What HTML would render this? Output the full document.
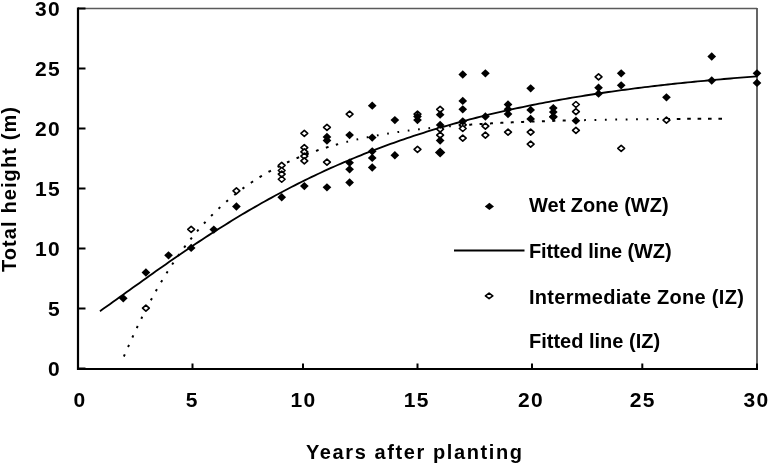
<!DOCTYPE html>
<html><head><meta charset="utf-8"><style>
html,body{margin:0;padding:0;background:#fff;}
#c{position:relative;will-change:transform;width:769px;height:464px;overflow:hidden;background:#fff;font-family:"Liberation Sans",sans-serif;font-weight:bold;color:#000;}
svg{position:absolute;left:0;top:0;}
.yl{position:absolute;left:0;width:61px;text-align:right;font-size:21px;line-height:24px;letter-spacing:1.3px;}
.xl{position:absolute;top:388px;width:60px;text-align:center;font-size:21px;line-height:24px;letter-spacing:1.3px;}
.lg{position:absolute;left:529px;font-size:20px;line-height:24px;white-space:nowrap;}
#xt{position:absolute;left:306px;top:440px;font-size:20px;line-height:24px;letter-spacing:1.6px;white-space:nowrap;}
#yt{position:absolute;left:-83px;top:177px;width:184px;text-align:center;font-size:20px;line-height:24px;letter-spacing:1.1px;white-space:nowrap;transform:rotate(-90deg);}
</style></head><body><div id="c">
<svg width="769" height="464" viewBox="0 0 769 464">
<line x1="78" y1="8.6" x2="757" y2="8.6" stroke="#5a5a5a" stroke-width="1.5"/>
<line x1="757" y1="8" x2="757" y2="369" stroke="#555" stroke-width="1.8"/>
<line x1="78" y1="7.5" x2="78" y2="370" stroke="#000" stroke-width="2.2"/>
<line x1="77" y1="369" x2="758" y2="369" stroke="#000" stroke-width="2.2"/>
<line x1="78" y1="368.50" x2="85.5" y2="368.50" stroke="#000" stroke-width="2"/>
<line x1="78" y1="308.50" x2="85.5" y2="308.50" stroke="#000" stroke-width="2"/>
<line x1="78" y1="248.50" x2="85.5" y2="248.50" stroke="#000" stroke-width="2"/>
<line x1="78" y1="188.50" x2="85.5" y2="188.50" stroke="#000" stroke-width="2"/>
<line x1="78" y1="128.50" x2="85.5" y2="128.50" stroke="#000" stroke-width="2"/>
<line x1="78" y1="68.50" x2="85.5" y2="68.50" stroke="#000" stroke-width="2"/>
<line x1="78" y1="8.50" x2="85.5" y2="8.50" stroke="#000" stroke-width="2"/>
<line x1="192.50" y1="363.5" x2="192.50" y2="369" stroke="#000" stroke-width="2"/>
<line x1="303.00" y1="363.5" x2="303.00" y2="369" stroke="#000" stroke-width="2"/>
<line x1="417.50" y1="363.5" x2="417.50" y2="369" stroke="#000" stroke-width="2"/>
<line x1="532.00" y1="363.5" x2="532.00" y2="369" stroke="#000" stroke-width="2"/>
<line x1="642.30" y1="363.5" x2="642.30" y2="369" stroke="#000" stroke-width="2"/>
<line x1="757.00" y1="363.5" x2="757.00" y2="369" stroke="#000" stroke-width="2"/>
<polyline points="99.95,311.16 103.26,308.84 106.56,306.50 109.86,304.16 113.16,301.80 116.46,299.45 119.76,297.08 123.07,294.72 126.37,292.35 129.67,289.98 132.97,287.61 136.27,285.24 139.57,282.88 142.88,280.52 146.18,278.16 149.48,275.81 152.78,273.46 156.08,271.12 159.38,268.79 162.69,266.47 165.99,264.15 169.29,261.85 172.59,259.55 175.89,257.27 179.19,255.00 182.50,252.74 185.80,250.49 189.10,248.26 192.40,246.04 195.70,243.83 199.00,241.64 202.31,239.46 205.61,237.30 208.91,235.15 212.21,233.02 215.51,230.90 218.81,228.80 222.12,226.72 225.42,224.66 228.72,222.61 232.02,220.57 235.32,218.56 238.62,216.56 241.93,214.58 245.23,212.62 248.53,210.67 251.83,208.75 255.13,206.84 258.44,204.95 261.74,203.07 265.04,201.22 268.34,199.38 271.64,197.57 274.94,195.77 278.25,193.98 281.55,192.22 284.85,190.48 288.15,188.75 291.45,187.04 294.75,185.35 298.06,183.68 301.36,182.03 304.66,180.39 307.96,178.77 311.26,177.17 314.56,175.59 317.87,174.03 321.17,172.48 324.47,170.95 327.77,169.44 331.07,167.95 334.37,166.47 337.68,165.01 340.98,163.57 344.28,162.15 347.58,160.74 350.88,159.35 354.18,157.98 357.49,156.62 360.79,155.28 364.09,153.96 367.39,152.65 370.69,151.36 373.99,150.08 377.30,148.82 380.60,147.58 383.90,146.35 387.20,145.14 390.50,143.94 393.80,142.76 397.11,141.59 400.41,140.44 403.71,139.30 407.01,138.18 410.31,137.07 413.61,135.97 416.92,134.90 420.22,133.83 423.52,132.78 426.82,131.74 430.12,130.72 433.42,129.71 436.73,128.71 440.03,127.73 443.33,126.76 446.63,125.80 449.93,124.85 453.23,123.92 456.54,123.00 459.84,122.10 463.14,121.20 466.44,120.32 469.74,119.45 473.04,118.59 476.35,117.74 479.65,116.91 482.95,116.08 486.25,115.27 489.55,114.47 492.85,113.68 496.16,112.90 499.46,112.13 502.76,111.37 506.06,110.63 509.36,109.89 512.67,109.16 515.97,108.45 519.27,107.74 522.57,107.04 525.87,106.36 529.17,105.68 532.48,105.01 535.78,104.35 539.08,103.70 542.38,103.07 545.68,102.43 548.98,101.81 552.29,101.20 555.59,100.60 558.89,100.00 562.19,99.41 565.49,98.84 568.79,98.27 572.10,97.70 575.40,97.15 578.70,96.60 582.00,96.07 585.30,95.53 588.60,95.01 591.91,94.50 595.21,93.99 598.51,93.49 601.81,93.00 605.11,92.51 608.41,92.03 611.72,91.56 615.02,91.09 618.32,90.63 621.62,90.18 624.92,89.74 628.22,89.30 631.53,88.87 634.83,88.44 638.13,88.02 641.43,87.61 644.73,87.20 648.03,86.80 651.34,86.40 654.64,86.01 657.94,85.63 661.24,85.25 664.54,84.88 667.84,84.51 671.15,84.15 674.45,83.79 677.75,83.44 681.05,83.09 684.35,82.75 687.65,82.42 690.96,82.09 694.26,81.76 697.56,81.44 700.86,81.12 704.16,80.81 707.46,80.50 710.77,80.20 714.07,79.90 717.37,79.61 720.67,79.32 723.97,79.03 727.27,78.75 730.58,78.48 733.88,78.20 737.18,77.94 740.48,77.67 743.78,77.41 747.08,77.15 750.39,76.90 753.69,76.65 756.99,76.41" fill="none" stroke="#000" stroke-width="1.85"/>
<polyline points="123.27,357.88 123.67,356.96 124.07,356.04 124.47,355.13 124.87,354.22 125.27,353.30 125.67,352.39 126.07,351.48 126.47,350.58 126.87,349.67 127.27,348.77 127.67,347.87 128.07,346.97 128.47,346.07 128.87,345.18 129.27,344.29 129.67,343.40 130.07,342.51 130.47,341.62 130.87,340.74 131.27,339.86 131.67,338.99 132.07,338.11 132.47,337.24 132.87,336.37 133.27,335.50 133.67,334.64 134.07,333.78 134.47,332.92 134.87,332.07 135.27,331.21 135.67,330.36 136.07,329.52 136.47,328.67 136.87,327.83 137.27,326.99 137.67,326.16 138.07,325.32 138.47,324.49 138.87,323.67 139.27,322.84 139.67,322.02 140.07,321.20 140.47,320.39 140.87,319.57 141.27,318.76 141.67,317.95 142.07,317.15 142.47,316.35 142.87,315.55 143.27,314.75 143.67,313.96 144.07,313.17 144.47,312.38 144.87,311.60 145.27,310.82 145.67,310.04 146.07,309.26 146.47,308.49 146.87,307.72 147.27,306.95 147.67,306.19 148.07,305.43 148.47,304.67 148.87,303.91 149.27,303.16 149.67,302.41 150.07,301.66 150.47,300.91 150.87,300.17 151.27,299.43 151.67,298.70 152.07,297.96 152.47,297.23 152.87,296.50 153.27,295.78 153.67,295.05 154.07,294.33 154.48,293.62 154.88,292.90 155.28,292.19 155.68,291.48 156.08,290.78 156.48,290.07 156.88,289.37 157.28,288.67 157.68,287.98 158.08,287.28 158.48,286.59 158.88,285.91 159.28,285.22 159.68,284.54 160.08,283.86 160.48,283.18 160.88,282.51 161.28,281.84 161.68,281.17 162.08,280.50 162.48,279.84 162.88,279.17 163.28,278.51 163.68,277.86 164.08,277.20 164.48,276.55 164.88,275.90 165.28,275.26 165.68,274.62 166.08,273.97 166.48,273.34 166.88,272.70 167.28,272.07 167.68,271.43 168.08,270.81 168.48,270.18 168.88,269.56 169.28,268.93 169.68,268.32 170.08,267.70 170.48,267.09 170.88,266.47 171.28,265.87 171.68,265.26 172.08,264.65 172.48,264.05 172.88,263.45 173.28,262.86 173.68,262.26 174.08,261.67 174.48,261.08 174.88,260.49 175.28,259.91 175.68,259.32 176.08,258.74 176.48,258.16 176.88,257.59 177.28,257.01 177.68,256.44 178.08,255.87 178.48,255.31 178.88,254.74 179.28,254.18 179.68,253.62 180.08,253.06 180.48,252.50 180.88,251.95 181.28,251.40 181.68,250.85 182.08,250.30 182.48,249.76 182.88,249.22 183.28,248.68 183.68,248.14 184.08,247.60 184.48,247.07 184.88,246.54 185.28,246.01 185.68,245.48 186.08,244.95 186.48,244.43 186.88,243.91 187.28,243.39 187.68,242.87 188.08,242.36 188.48,241.85 188.89,241.34 189.29,240.83 189.69,240.32 190.09,239.82 190.49,239.31 190.89,238.81 191.29,238.31 191.69,237.82 192.09,237.32 192.49,236.83 192.89,236.34 193.29,235.85 193.69,235.36 194.09,234.88 194.49,234.40 194.89,233.92 195.29,233.44 195.69,232.96 196.09,232.49 196.49,232.01 196.89,231.54 197.29,231.07 197.69,230.61 198.09,230.14 198.49,229.68 198.89,229.22 199.29,228.76 199.69,228.30 200.09,227.84 200.49,227.39 200.89,226.94 201.29,226.49 201.69,226.04 202.09,225.59 202.49,225.15 202.89,224.70 203.29,224.26 203.69,223.82 204.09,223.38 204.49,222.95 204.89,222.51 205.29,222.08 205.69,221.65 206.09,221.22 206.49,220.80 206.89,220.37 207.29,219.95 207.69,219.52 208.09,219.10 208.49,218.69 208.89,218.27 209.29,217.85 209.69,217.44 210.09,217.03 210.49,216.62 210.89,216.21 211.29,215.80 211.69,215.40 212.09,215.00 212.49,214.59 212.89,214.19 213.29,213.80 213.69,213.40 214.09,213.00 214.49,212.61 214.89,212.22 215.29,211.83 215.69,211.44 216.09,211.05 216.49,210.67 216.89,210.28 217.29,209.90 217.69,209.52 218.09,209.14 218.49,208.76 218.89,208.39 219.29,208.01 219.69,207.64 220.09,207.27 220.49,206.90 220.89,206.53 221.29,206.16 221.69,205.79 222.09,205.43 222.49,205.07 222.89,204.71 223.30,204.35 223.70,203.99 224.10,203.63 224.50,203.28 224.90,202.92 225.30,202.57 225.70,202.22 226.10,201.87 226.50,201.52 226.90,201.18 227.30,200.83 227.70,200.49 228.10,200.15 228.50,199.81 228.90,199.47 229.30,199.13 229.70,198.79 230.10,198.46 230.50,198.12 230.90,197.79 231.30,197.46 231.70,197.13 232.10,196.80 232.50,196.47 232.90,196.15 233.30,195.82 233.70,195.50 234.10,195.18 234.50,194.86 234.90,194.54 235.30,194.22 235.70,193.90 236.10,193.59 236.50,193.28 236.90,192.96 237.30,192.65 237.70,192.34 238.10,192.03 238.50,191.73 238.90,191.42 239.30,191.11 239.70,190.81 240.10,190.51 240.50,190.21 240.90,189.91 241.30,189.61 241.70,189.31 242.10,189.02 242.50,188.72 242.90,188.43 243.30,188.13 243.70,187.84 244.10,187.55 244.50,187.26 244.90,186.98 245.30,186.69 245.70,186.40 246.10,186.12 246.50,185.84 246.90,185.55 247.30,185.27 247.70,184.99" fill="none" stroke="#000" stroke-width="2" stroke-dasharray="2.3 8.10" stroke-dashoffset="8.92"/>
<polyline points="248.10,184.72 248.50,184.44 248.90,184.16 249.30,183.89 249.70,183.61 250.10,183.34 250.50,183.07 250.90,182.80 251.30,182.53 251.70,182.26 252.10,181.99 252.50,181.73 252.90,181.46 253.30,181.20 253.70,180.94 254.10,180.68 254.50,180.42 254.90,180.16 255.30,179.90 255.70,179.64 256.10,179.38 256.50,179.13 256.90,178.87 257.30,178.62 257.71,178.37 258.11,178.12 258.51,177.87 258.91,177.62 259.31,177.37 259.71,177.13 260.11,176.88 260.51,176.63 260.91,176.39 261.31,176.15 261.71,175.91 262.11,175.67 262.51,175.43 262.91,175.19 263.31,174.95 263.71,174.71 264.11,174.48 264.51,174.24 264.91,174.01 265.31,173.77 265.71,173.54 266.11,173.31 266.51,173.08 266.91,172.85 267.31,172.62 267.71,172.40 268.11,172.17 268.51,171.95 268.91,171.72 269.31,171.50 269.71,171.28 270.11,171.05 270.51,170.83 270.91,170.61 271.31,170.39 271.71,170.18 272.11,169.96 272.51,169.74 272.91,169.53 273.31,169.31 273.71,169.10 274.11,168.89 274.51,168.68 274.91,168.47 275.31,168.26 275.71,168.05 276.11,167.84 276.51,167.63 276.91,167.42 277.31,167.22 277.71,167.01 278.11,166.81 278.51,166.61 278.91,166.41 279.31,166.20 279.71,166.00 280.11,165.80 280.51,165.60 280.91,165.41 281.31,165.21 281.71,165.01 282.11,164.82 282.51,164.62 282.91,164.43 283.31,164.24 283.71,164.04 284.11,163.85 284.51,163.66 284.91,163.47 285.31,163.28 285.71,163.09 286.11,162.91 286.51,162.72 286.91,162.53 287.31,162.35 287.71,162.16 288.11,161.98 288.51,161.80 288.91,161.61 289.31,161.43 289.71,161.25 290.11,161.07 290.51,160.89 290.91,160.71 291.31,160.54 291.72,160.36 292.12,160.18 292.52,160.01 292.92,159.83 293.32,159.66 293.72,159.49 294.12,159.31 294.52,159.14 294.92,158.97 295.32,158.80 295.72,158.63 296.12,158.46 296.52,158.29 296.92,158.12 297.32,157.96 297.72,157.79 298.12,157.63 298.52,157.46 298.92,157.30 299.32,157.13 299.72,156.97 300.12,156.81 300.52,156.65 300.92,156.49 301.32,156.33 301.72,156.17 302.12,156.01 302.52,155.85 302.92,155.69 303.32,155.54 303.72,155.38 304.12,155.22 304.52,155.07 304.92,154.91 305.32,154.76 305.72,154.61 306.12,154.46 306.52,154.30 306.92,154.15 307.32,154.00 307.72,153.85 308.12,153.70 308.52,153.56 308.92,153.41 309.32,153.26 309.72,153.11 310.12,152.97 310.52,152.82 310.92,152.68 311.32,152.53 311.72,152.39 312.12,152.25 312.52,152.10 312.92,151.96 313.32,151.82 313.72,151.68 314.12,151.54 314.52,151.40 314.92,151.26 315.32,151.12 315.72,150.99 316.12,150.85 316.52,150.71 316.92,150.58 317.32,150.44 317.72,150.30 318.12,150.17 318.52,150.04 318.92,149.90 319.32,149.77 319.72,149.64 320.12,149.51 320.52,149.38 320.92,149.25 321.32,149.12 321.72,148.99 322.12,148.86 322.52,148.73 322.92,148.60 323.32,148.47 323.72,148.35 324.12,148.22 324.52,148.10 324.92,147.97 325.32,147.85 325.72,147.72 326.13,147.60 326.53,147.47 326.93,147.35 327.33,147.23 327.73,147.11 328.13,146.99 328.53,146.87 328.93,146.75 329.33,146.63 329.73,146.51 330.13,146.39 330.53,146.27 330.93,146.15 331.33,146.04 331.73,145.92 332.13,145.80 332.53,145.69 332.93,145.57 333.33,145.46 333.73,145.34 334.13,145.23 334.53,145.12 334.93,145.01 335.33,144.89 335.73,144.78 336.13,144.67 336.53,144.56 336.93,144.45 337.33,144.34 337.73,144.23 338.13,144.12" fill="none" stroke="#000" stroke-width="2" stroke-dasharray="2.8 7.60" stroke-dashoffset="7.13"/>
<polyline points="338.53,144.01 338.93,143.90 339.33,143.80 339.73,143.69 340.13,143.58 340.53,143.48 340.93,143.37 341.33,143.26 341.73,143.16 342.13,143.05 342.53,142.95 342.93,142.85 343.33,142.74 343.73,142.64 344.13,142.54 344.53,142.44 344.93,142.33 345.33,142.23 345.73,142.13 346.13,142.03 346.53,141.93 346.93,141.83 347.33,141.73 347.73,141.64 348.13,141.54 348.53,141.44 348.93,141.34 349.33,141.25 349.73,141.15 350.13,141.05 350.53,140.96 350.93,140.86 351.33,140.77 351.73,140.67 352.13,140.58 352.53,140.48 352.93,140.39 353.33,140.30 353.73,140.21 354.13,140.11 354.53,140.02 354.93,139.93 355.33,139.84 355.73,139.75 356.13,139.66 356.53,139.57 356.93,139.48 357.33,139.39 357.73,139.30 358.13,139.21 358.53,139.12 358.93,139.04 359.33,138.95 359.73,138.86 360.13,138.77 360.54,138.69 360.94,138.60 361.34,138.52 361.74,138.43 362.14,138.35 362.54,138.26 362.94,138.18 363.34,138.09 363.74,138.01 364.14,137.93 364.54,137.85 364.94,137.76 365.34,137.68 365.74,137.60 366.14,137.52 366.54,137.44 366.94,137.36 367.34,137.28 367.74,137.20 368.14,137.12 368.54,137.04 368.94,136.96 369.34,136.88 369.74,136.80 370.14,136.72 370.54,136.65 370.94,136.57 371.34,136.49 371.74,136.41 372.14,136.34 372.54,136.26 372.94,136.19 373.34,136.11 373.74,136.04 374.14,135.96 374.54,135.89 374.94,135.81 375.34,135.74 375.74,135.67 376.14,135.59 376.54,135.52 376.94,135.45 377.34,135.37 377.74,135.30 378.14,135.23 378.54,135.16 378.94,135.09 379.34,135.02 379.74,134.95 380.14,134.88 380.54,134.81 380.94,134.74 381.34,134.67 381.74,134.60 382.14,134.53 382.54,134.46 382.94,134.39 383.34,134.32 383.74,134.26 384.14,134.19 384.54,134.12 384.94,134.06 385.34,133.99 385.74,133.92 386.14,133.86 386.54,133.79 386.94,133.73 387.34,133.66 387.74,133.60 388.14,133.53 388.54,133.47 388.94,133.40 389.34,133.34 389.74,133.28 390.14,133.21 390.54,133.15 390.94,133.09 391.34,133.02 391.74,132.96 392.14,132.90 392.54,132.84 392.94,132.78 393.34,132.72 393.74,132.65 394.14,132.59 394.54,132.53 394.95,132.47 395.35,132.41 395.75,132.35 396.15,132.29 396.55,132.24 396.95,132.18 397.35,132.12 397.75,132.06 398.15,132.00 398.55,131.94 398.95,131.89 399.35,131.83 399.75,131.77 400.15,131.71 400.55,131.66 400.95,131.60 401.35,131.54 401.75,131.49 402.15,131.43 402.55,131.38 402.95,131.32 403.35,131.27 403.75,131.21 404.15,131.16 404.55,131.10 404.95,131.05 405.35,130.99 405.75,130.94 406.15,130.89 406.55,130.83 406.95,130.78 407.35,130.73 407.75,130.68 408.15,130.62 408.55,130.57 408.95,130.52 409.35,130.47 409.75,130.42 410.15,130.36 410.55,130.31 410.95,130.26 411.35,130.21 411.75,130.16 412.15,130.11 412.55,130.06 412.95,130.01 413.35,129.96 413.75,129.91 414.15,129.86 414.55,129.81 414.95,129.77 415.35,129.72 415.75,129.67 416.15,129.62 416.55,129.57 416.95,129.53 417.35,129.48 417.75,129.43 418.15,129.38 418.55,129.34 418.95,129.29 419.35,129.24 419.75,129.20 420.15,129.15 420.55,129.10 420.95,129.06 421.35,129.01 421.75,128.97 422.15,128.92 422.55,128.88 422.95,128.83 423.35,128.79 423.75,128.74 424.15,128.70 424.55,128.65 424.95,128.61 425.35,128.57 425.75,128.52 426.15,128.48 426.55,128.44 426.95,128.39 427.35,128.35 427.75,128.31 428.15,128.27 428.55,128.22 428.95,128.18 429.36,128.14 429.76,128.10 430.16,128.06 430.56,128.01 430.96,127.97 431.36,127.93 431.76,127.89 432.16,127.85 432.56,127.81 432.96,127.77 433.36,127.73 433.76,127.69 434.16,127.65 434.56,127.61 434.96,127.57 435.36,127.53 435.76,127.49 436.16,127.45 436.56,127.41 436.96,127.38 437.36,127.34 437.76,127.30 438.16,127.26 438.56,127.22 438.96,127.18 439.36,127.15 439.76,127.11 440.16,127.07 440.56,127.03 440.96,127.00 441.36,126.96 441.76,126.92 442.16,126.89 442.56,126.85 442.96,126.81 443.36,126.78 443.76,126.74 444.16,126.71 444.56,126.67 444.96,126.63 445.36,126.60 445.76,126.56 446.16,126.53 446.56,126.49 446.96,126.46 447.36,126.42 447.76,126.39 448.16,126.35 448.56,126.32 448.96,126.29 449.36,126.25 449.76,126.22 450.16,126.18 450.56,126.15 450.96,126.12 451.36,126.08" fill="none" stroke="#000" stroke-width="2" stroke-dasharray="1.7 8.70" stroke-dashoffset="2.25"/>
<polyline points="451.76,126.05 452.16,126.02 452.56,125.98 452.96,125.95 453.36,125.92 453.76,125.89 454.16,125.85 454.56,125.82 454.96,125.79 455.36,125.76 455.76,125.73 456.16,125.70 456.56,125.66 456.96,125.63 457.36,125.60 457.76,125.57 458.16,125.54 458.56,125.51 458.96,125.48 459.36,125.45 459.76,125.42 460.16,125.39 460.56,125.36 460.96,125.33 461.36,125.30 461.76,125.27 462.16,125.24 462.56,125.21 462.96,125.18 463.36,125.15 463.77,125.12 464.17,125.09 464.57,125.06 464.97,125.03 465.37,125.00 465.77,124.97 466.17,124.95 466.57,124.92 466.97,124.89 467.37,124.86 467.77,124.83 468.17,124.80 468.57,124.78 468.97,124.75 469.37,124.72 469.77,124.69 470.17,124.67 470.57,124.64 470.97,124.61 471.37,124.59 471.77,124.56 472.17,124.53 472.57,124.51 472.97,124.48 473.37,124.45 473.77,124.43 474.17,124.40 474.57,124.37 474.97,124.35 475.37,124.32 475.77,124.30 476.17,124.27 476.57,124.24 476.97,124.22 477.37,124.19 477.77,124.17 478.17,124.14 478.57,124.12 478.97,124.09 479.37,124.07 479.77,124.04 480.17,124.02 480.57,123.99 480.97,123.97 481.37,123.95 481.77,123.92 482.17,123.90 482.57,123.87 482.97,123.85 483.37,123.83 483.77,123.80 484.17,123.78 484.57,123.76 484.97,123.73 485.37,123.71 485.77,123.69 486.17,123.66 486.57,123.64 486.97,123.62 487.37,123.59 487.77,123.57 488.17,123.55 488.57,123.53 488.97,123.50 489.37,123.48 489.77,123.46 490.17,123.44 490.57,123.41 490.97,123.39 491.37,123.37 491.77,123.35 492.17,123.33 492.57,123.31 492.97,123.28 493.37,123.26 493.77,123.24 494.17,123.22 494.57,123.20 494.97,123.18 495.37,123.16 495.77,123.14 496.17,123.12 496.57,123.09 496.97,123.07 497.37,123.05 497.77,123.03 498.18,123.01 498.58,122.99 498.98,122.97 499.38,122.95 499.78,122.93 500.18,122.91 500.58,122.89 500.98,122.87 501.38,122.85 501.78,122.83 502.18,122.81 502.58,122.79 502.98,122.77 503.38,122.76 503.78,122.74 504.18,122.72 504.58,122.70 504.98,122.68 505.38,122.66 505.78,122.64 506.18,122.62 506.58,122.60 506.98,122.59 507.38,122.57 507.78,122.55 508.18,122.53 508.58,122.51 508.98,122.49 509.38,122.48 509.78,122.46 510.18,122.44 510.58,122.42 510.98,122.40 511.38,122.39 511.78,122.37 512.18,122.35 512.58,122.33 512.98,122.32 513.38,122.30 513.78,122.28 514.18,122.26 514.58,122.25 514.98,122.23 515.38,122.21 515.78,122.20 516.18,122.18 516.58,122.16 516.98,122.15 517.38,122.13 517.78,122.11 518.18,122.10 518.58,122.08 518.98,122.06 519.38,122.05 519.78,122.03 520.18,122.01 520.58,122.00 520.98,121.98 521.38,121.97 521.78,121.95 522.18,121.93 522.58,121.92 522.98,121.90 523.38,121.89 523.78,121.87 524.18,121.86 524.58,121.84 524.98,121.83 525.38,121.81 525.78,121.79 526.18,121.78 526.58,121.76 526.98,121.75 527.38,121.73 527.78,121.72 528.18,121.70 528.58,121.69 528.98,121.67 529.38,121.66 529.78,121.65 530.18,121.63 530.58,121.62 530.98,121.60 531.38,121.59 531.78,121.57 532.18,121.56 532.59,121.54 532.99,121.53 533.39,121.52 533.79,121.50 534.19,121.49 534.59,121.47 534.99,121.46 535.39,121.45 535.79,121.43 536.19,121.42 536.59,121.41 536.99,121.39 537.39,121.38 537.79,121.37 538.19,121.35 538.59,121.34 538.99,121.33 539.39,121.31 539.79,121.30 540.19,121.29 540.59,121.27 540.99,121.26 541.39,121.25 541.79,121.23 542.19,121.22 542.59,121.21 542.99,121.20 543.39,121.18 543.79,121.17 544.19,121.16 544.59,121.15 544.99,121.13 545.39,121.12 545.79,121.11 546.19,121.10 546.59,121.08 546.99,121.07 547.39,121.06 547.79,121.05 548.19,121.04 548.59,121.02 548.99,121.01 549.39,121.00 549.79,120.99 550.19,120.98 550.59,120.96 550.99,120.95 551.39,120.94 551.79,120.93 552.19,120.92 552.59,120.91 552.99,120.89 553.39,120.88 553.79,120.87 554.19,120.86 554.59,120.85 554.99,120.84 555.39,120.83 555.79,120.82 556.19,120.80 556.59,120.79 556.99,120.78 557.39,120.77 557.79,120.76 558.19,120.75 558.59,120.74 558.99,120.73 559.39,120.72 559.79,120.71 560.19,120.70 560.59,120.69 560.99,120.68 561.39,120.66 561.79,120.65 562.19,120.64 562.59,120.63 562.99,120.62 563.39,120.61 563.79,120.60 564.19,120.59 564.59,120.58 564.99,120.57 565.39,120.56 565.79,120.55 566.19,120.54 566.59,120.53 567.00,120.52 567.40,120.51 567.80,120.50 568.20,120.49 568.60,120.48 569.00,120.47 569.40,120.46 569.80,120.45 570.20,120.44 570.60,120.44 571.00,120.43 571.40,120.42 571.80,120.41 572.20,120.40 572.60,120.39 573.00,120.38 573.40,120.37 573.80,120.36 574.20,120.35 574.60,120.34 575.00,120.33 575.40,120.32 575.80,120.31" fill="none" stroke="#000" stroke-width="2" stroke-dasharray="3.0 7.40" stroke-dashoffset="3.30"/>
<polyline points="576.20,120.31 576.60,120.30 577.00,120.29 577.40,120.28 577.80,120.27 578.20,120.26 578.60,120.25 579.00,120.24 579.40,120.24 579.80,120.23 580.20,120.22 580.60,120.21 581.00,120.20 581.40,120.19 581.80,120.18 582.20,120.18 582.60,120.17 583.00,120.16 583.40,120.15 583.80,120.14 584.20,120.13 584.60,120.13 585.00,120.12 585.40,120.11 585.80,120.10 586.20,120.09 586.60,120.09 587.00,120.08 587.40,120.07 587.80,120.06 588.20,120.05 588.60,120.05 589.00,120.04 589.40,120.03 589.80,120.02 590.20,120.01 590.60,120.01 591.00,120.00 591.40,119.99 591.80,119.98 592.20,119.98 592.60,119.97 593.00,119.96 593.40,119.95 593.80,119.95 594.20,119.94 594.60,119.93 595.00,119.92 595.40,119.92 595.80,119.91 596.20,119.90 596.60,119.89 597.00,119.89 597.40,119.88 597.80,119.87 598.20,119.87 598.60,119.86 599.00,119.85 599.40,119.84 599.80,119.84 600.20,119.83 600.60,119.82 601.00,119.82 601.41,119.81 601.81,119.80 602.21,119.80 602.61,119.79 603.01,119.78 603.41,119.78 603.81,119.77 604.21,119.76 604.61,119.76 605.01,119.75 605.41,119.74 605.81,119.74 606.21,119.73 606.61,119.72 607.01,119.72 607.41,119.71 607.81,119.70 608.21,119.70 608.61,119.69 609.01,119.68 609.41,119.68 609.81,119.67 610.21,119.67 610.61,119.66 611.01,119.65 611.41,119.65 611.81,119.64 612.21,119.63 612.61,119.63 613.01,119.62 613.41,119.62 613.81,119.61 614.21,119.60 614.61,119.60 615.01,119.59 615.41,119.59 615.81,119.58 616.21,119.57 616.61,119.57 617.01,119.56 617.41,119.56 617.81,119.55 618.21,119.54 618.61,119.54 619.01,119.53 619.41,119.53 619.81,119.52 620.21,119.52 620.61,119.51 621.01,119.51 621.41,119.50 621.81,119.49 622.21,119.49 622.61,119.48 623.01,119.48 623.41,119.47 623.81,119.47 624.21,119.46 624.61,119.46 625.01,119.45 625.41,119.44 625.81,119.44 626.21,119.43 626.61,119.43 627.01,119.42 627.41,119.42 627.81,119.41 628.21,119.41 628.61,119.40 629.01,119.40 629.41,119.39 629.81,119.39 630.21,119.38 630.61,119.38 631.01,119.37 631.41,119.37 631.81,119.36 632.21,119.36 632.61,119.35 633.01,119.35 633.41,119.34 633.81,119.34 634.21,119.33 634.61,119.33 635.01,119.32 635.42,119.32 635.82,119.31 636.22,119.31 636.62,119.30 637.02,119.30 637.42,119.29 637.82,119.29 638.22,119.28 638.62,119.28 639.02,119.28 639.42,119.27 639.82,119.27 640.22,119.26 640.62,119.26 641.02,119.25 641.42,119.25 641.82,119.24 642.22,119.24 642.62,119.23 643.02,119.23 643.42,119.23 643.82,119.22 644.22,119.22 644.62,119.21 645.02,119.21 645.42,119.20 645.82,119.20 646.22,119.20 646.62,119.19 647.02,119.19 647.42,119.18 647.82,119.18 648.22,119.17 648.62,119.17 649.02,119.17 649.42,119.16 649.82,119.16 650.22,119.15 650.62,119.15 651.02,119.14 651.42,119.14 651.82,119.14 652.22,119.13 652.62,119.13 653.02,119.12 653.42,119.12 653.82,119.12 654.22,119.11 654.62,119.11 655.02,119.10 655.42,119.10 655.82,119.10 656.22,119.09 656.62,119.09 657.02,119.09 657.42,119.08 657.82,119.08 658.22,119.07 658.62,119.07 659.02,119.07 659.42,119.06 659.82,119.06 660.22,119.06 660.62,119.05 661.02,119.05 661.42,119.04 661.82,119.04 662.22,119.04 662.62,119.03 663.02,119.03 663.42,119.03 663.82,119.02 664.22,119.02 664.62,119.02 665.02,119.01 665.42,119.01 665.82,119.00 666.22,119.00" fill="none" stroke="#000" stroke-width="2" stroke-dasharray="1.8 8.60" stroke-dashoffset="2.49"/>
<polyline points="666.62,119.00 667.02,118.99 667.42,118.99 667.82,118.99 668.22,118.98 668.62,118.98 669.02,118.98 669.42,118.97 669.83,118.97 670.23,118.97 670.63,118.96 671.03,118.96 671.43,118.96 671.83,118.95 672.23,118.95 672.63,118.95 673.03,118.94 673.43,118.94 673.83,118.94 674.23,118.93 674.63,118.93 675.03,118.93 675.43,118.93 675.83,118.92 676.23,118.92 676.63,118.92 677.03,118.91 677.43,118.91 677.83,118.91 678.23,118.90 678.63,118.90 679.03,118.90 679.43,118.89 679.83,118.89 680.23,118.89 680.63,118.89 681.03,118.88 681.43,118.88 681.83,118.88 682.23,118.87 682.63,118.87 683.03,118.87 683.43,118.86 683.83,118.86 684.23,118.86 684.63,118.86 685.03,118.85 685.43,118.85 685.83,118.85 686.23,118.84 686.63,118.84 687.03,118.84 687.43,118.84 687.83,118.83 688.23,118.83 688.63,118.83 689.03,118.82 689.43,118.82 689.83,118.82 690.23,118.82 690.63,118.81 691.03,118.81 691.43,118.81 691.83,118.81 692.23,118.80 692.63,118.80 693.03,118.80 693.43,118.80 693.83,118.79 694.23,118.79 694.63,118.79 695.03,118.79 695.43,118.78 695.83,118.78 696.23,118.78 696.63,118.77 697.03,118.77 697.43,118.77 697.83,118.77 698.23,118.76 698.63,118.76 699.03,118.76 699.43,118.76 699.83,118.76 700.23,118.75 700.63,118.75 701.03,118.75 701.43,118.75 701.83,118.74 702.23,118.74 702.63,118.74 703.03,118.74 703.43,118.73 703.83,118.73 704.24,118.73 704.64,118.73 705.04,118.72 705.44,118.72 705.84,118.72 706.24,118.72 706.64,118.71 707.04,118.71 707.44,118.71 707.84,118.71 708.24,118.71 708.64,118.70 709.04,118.70 709.44,118.70 709.84,118.70 710.24,118.69 710.64,118.69 711.04,118.69 711.44,118.69 711.84,118.69 712.24,118.68 712.64,118.68 713.04,118.68 713.44,118.68 713.84,118.68 714.24,118.67 714.64,118.67 715.04,118.67 715.44,118.67 715.84,118.66 716.24,118.66 716.64,118.66 717.04,118.66 717.44,118.66 717.84,118.65 718.24,118.65 718.64,118.65 719.04,118.65 719.44,118.65 719.84,118.64 720.24,118.64 720.64,118.64 721.04,118.64 721.44,118.64 721.84,118.63 722.24,118.63 722.64,118.63 723.04,118.63" fill="none" stroke="#000" stroke-width="2" stroke-dasharray="3.6 6.80" stroke-dashoffset="0.22"/>
<path d="M142.50,308.14L145.90,305.14L149.30,308.14L145.90,311.14Z" fill="#fff" stroke="#000" stroke-width="1.6" stroke-linejoin="round"/>
<path d="M187.76,229.30L191.16,226.30L194.56,229.30L191.16,232.30Z" fill="#fff" stroke="#000" stroke-width="1.6" stroke-linejoin="round"/>
<path d="M233.03,190.90L236.43,187.90L239.83,190.90L236.43,193.90Z" fill="#fff" stroke="#000" stroke-width="1.6" stroke-linejoin="round"/>
<path d="M278.30,165.34L281.70,162.34L285.10,165.34L281.70,168.34Z" fill="#fff" stroke="#000" stroke-width="1.6" stroke-linejoin="round"/>
<path d="M278.30,170.50L281.70,167.50L285.10,170.50L281.70,173.50Z" fill="#fff" stroke="#000" stroke-width="1.6" stroke-linejoin="round"/>
<path d="M278.30,174.10L281.70,171.10L285.10,174.10L281.70,177.10Z" fill="#fff" stroke="#000" stroke-width="1.6" stroke-linejoin="round"/>
<path d="M278.30,179.26L281.70,176.26L285.10,179.26L281.70,182.26Z" fill="#fff" stroke="#000" stroke-width="1.6" stroke-linejoin="round"/>
<path d="M300.93,133.30L304.33,130.30L307.73,133.30L304.33,136.30Z" fill="#fff" stroke="#000" stroke-width="1.6" stroke-linejoin="round"/>
<path d="M300.93,147.70L304.33,144.70L307.73,147.70L304.33,150.70Z" fill="#fff" stroke="#000" stroke-width="1.6" stroke-linejoin="round"/>
<path d="M300.93,151.90L304.33,148.90L307.73,151.90L304.33,154.90Z" fill="#fff" stroke="#000" stroke-width="1.6" stroke-linejoin="round"/>
<path d="M300.93,156.10L304.33,153.10L307.73,156.10L304.33,159.10Z" fill="#fff" stroke="#000" stroke-width="1.6" stroke-linejoin="round"/>
<path d="M300.93,160.90L304.33,157.90L307.73,160.90L304.33,163.90Z" fill="#fff" stroke="#000" stroke-width="1.6" stroke-linejoin="round"/>
<path d="M323.56,127.30L326.96,124.30L330.36,127.30L326.96,130.30Z" fill="#fff" stroke="#000" stroke-width="1.6" stroke-linejoin="round"/>
<path d="M323.56,162.10L326.96,159.10L330.36,162.10L326.96,165.10Z" fill="#fff" stroke="#000" stroke-width="1.6" stroke-linejoin="round"/>
<path d="M346.20,114.10L349.60,111.10L353.00,114.10L349.60,117.10Z" fill="#fff" stroke="#000" stroke-width="1.6" stroke-linejoin="round"/>
<path d="M414.10,114.10L417.50,111.10L420.89,114.10L417.50,117.10Z" fill="#fff" stroke="#000" stroke-width="1.6" stroke-linejoin="round"/>
<path d="M414.10,149.38L417.50,146.38L420.89,149.38L417.50,152.38Z" fill="#fff" stroke="#000" stroke-width="1.6" stroke-linejoin="round"/>
<path d="M436.73,109.30L440.13,106.30L443.53,109.30L440.13,112.30Z" fill="#fff" stroke="#000" stroke-width="1.6" stroke-linejoin="round"/>
<path d="M436.73,129.10L440.13,126.10L443.53,129.10L440.13,132.10Z" fill="#fff" stroke="#000" stroke-width="1.6" stroke-linejoin="round"/>
<path d="M436.73,135.10L440.13,132.10L443.53,135.10L440.13,138.10Z" fill="#fff" stroke="#000" stroke-width="1.6" stroke-linejoin="round"/>
<path d="M459.36,124.90L462.76,121.90L466.16,124.90L462.76,127.90Z" fill="#fff" stroke="#000" stroke-width="1.6" stroke-linejoin="round"/>
<path d="M459.36,128.50L462.76,125.50L466.16,128.50L462.76,131.50Z" fill="#fff" stroke="#000" stroke-width="1.6" stroke-linejoin="round"/>
<path d="M459.36,138.10L462.76,135.10L466.16,138.10L462.76,141.10Z" fill="#fff" stroke="#000" stroke-width="1.6" stroke-linejoin="round"/>
<path d="M481.99,126.10L485.39,123.10L488.79,126.10L485.39,129.10Z" fill="#fff" stroke="#000" stroke-width="1.6" stroke-linejoin="round"/>
<path d="M481.99,135.10L485.39,132.10L488.79,135.10L485.39,138.10Z" fill="#fff" stroke="#000" stroke-width="1.6" stroke-linejoin="round"/>
<path d="M504.63,132.10L508.03,129.10L511.43,132.10L508.03,135.10Z" fill="#fff" stroke="#000" stroke-width="1.6" stroke-linejoin="round"/>
<path d="M527.26,132.10L530.66,129.10L534.06,132.10L530.66,135.10Z" fill="#fff" stroke="#000" stroke-width="1.6" stroke-linejoin="round"/>
<path d="M527.26,144.10L530.66,141.10L534.06,144.10L530.66,147.10Z" fill="#fff" stroke="#000" stroke-width="1.6" stroke-linejoin="round"/>
<path d="M549.89,116.86L553.29,113.86L556.69,116.86L553.29,119.86Z" fill="#fff" stroke="#000" stroke-width="1.6" stroke-linejoin="round"/>
<path d="M572.53,104.50L575.93,101.50L579.33,104.50L575.93,107.50Z" fill="#fff" stroke="#000" stroke-width="1.6" stroke-linejoin="round"/>
<path d="M572.53,111.70L575.93,108.70L579.33,111.70L575.93,114.70Z" fill="#fff" stroke="#000" stroke-width="1.6" stroke-linejoin="round"/>
<path d="M572.53,130.42L575.93,127.42L579.33,130.42L575.93,133.42Z" fill="#fff" stroke="#000" stroke-width="1.6" stroke-linejoin="round"/>
<path d="M595.16,76.90L598.56,73.90L601.96,76.90L598.56,79.90Z" fill="#fff" stroke="#000" stroke-width="1.6" stroke-linejoin="round"/>
<path d="M617.79,148.30L621.19,145.30L624.59,148.30L621.19,151.30Z" fill="#fff" stroke="#000" stroke-width="1.6" stroke-linejoin="round"/>
<path d="M663.06,120.10L666.46,117.10L669.86,120.10L666.46,123.10Z" fill="#fff" stroke="#000" stroke-width="1.6" stroke-linejoin="round"/>
<path d="M118.92,298.30L123.27,294.15L127.62,298.30L123.27,302.45Z" fill="#000"/>
<path d="M141.55,272.50L145.90,268.35L150.25,272.50L145.90,276.65Z" fill="#000"/>
<path d="M164.18,255.34L168.53,251.19L172.88,255.34L168.53,259.49Z" fill="#000"/>
<path d="M186.81,247.90L191.16,243.75L195.51,247.90L191.16,252.05Z" fill="#000"/>
<path d="M209.45,229.54L213.80,225.39L218.15,229.54L213.80,233.69Z" fill="#000"/>
<path d="M232.08,206.50L236.43,202.35L240.78,206.50L236.43,210.65Z" fill="#000"/>
<path d="M277.35,197.26L281.70,193.11L286.05,197.26L281.70,201.41Z" fill="#000"/>
<path d="M299.98,186.10L304.33,181.95L308.68,186.10L304.33,190.25Z" fill="#000"/>
<path d="M322.61,136.90L326.96,132.75L331.31,136.90L326.96,141.05Z" fill="#000"/>
<path d="M322.61,140.50L326.96,136.35L331.31,140.50L326.96,144.65Z" fill="#000"/>
<path d="M322.61,187.30L326.96,183.15L331.31,187.30L326.96,191.45Z" fill="#000"/>
<path d="M345.25,135.10L349.60,130.95L353.95,135.10L349.60,139.25Z" fill="#000"/>
<path d="M345.25,162.70L349.60,158.55L353.95,162.70L349.60,166.85Z" fill="#000"/>
<path d="M345.25,169.30L349.60,165.15L353.95,169.30L349.60,173.45Z" fill="#000"/>
<path d="M345.25,182.50L349.60,178.35L353.95,182.50L349.60,186.65Z" fill="#000"/>
<path d="M367.88,105.70L372.23,101.55L376.58,105.70L372.23,109.85Z" fill="#000"/>
<path d="M367.88,137.62L372.23,133.47L376.58,137.62L372.23,141.77Z" fill="#000"/>
<path d="M367.88,151.30L372.23,147.15L376.58,151.30L372.23,155.45Z" fill="#000"/>
<path d="M367.88,157.90L372.23,153.75L376.58,157.90L372.23,162.05Z" fill="#000"/>
<path d="M367.88,167.50L372.23,163.35L376.58,167.50L372.23,171.65Z" fill="#000"/>
<path d="M390.51,120.10L394.86,115.95L399.21,120.10L394.86,124.25Z" fill="#000"/>
<path d="M390.51,155.26L394.86,151.11L399.21,155.26L394.86,159.41Z" fill="#000"/>
<path d="M413.14,116.50L417.50,112.35L421.85,116.50L417.50,120.65Z" fill="#000"/>
<path d="M413.14,120.10L417.50,115.95L421.85,120.10L417.50,124.25Z" fill="#000"/>
<path d="M435.78,114.70L440.13,110.55L444.48,114.70L440.13,118.85Z" fill="#000"/>
<path d="M435.78,124.90L440.13,120.75L444.48,124.90L440.13,129.05Z" fill="#000"/>
<path d="M435.78,140.50L440.13,136.35L444.48,140.50L440.13,144.65Z" fill="#000"/>
<path d="M458.41,74.50L462.76,70.35L467.11,74.50L462.76,78.65Z" fill="#000"/>
<path d="M458.41,100.90L462.76,96.75L467.11,100.90L462.76,105.05Z" fill="#000"/>
<path d="M458.41,109.30L462.76,105.15L467.11,109.30L462.76,113.45Z" fill="#000"/>
<path d="M458.41,121.30L462.76,117.15L467.11,121.30L462.76,125.45Z" fill="#000"/>
<path d="M481.04,73.30L485.39,69.15L489.74,73.30L485.39,77.45Z" fill="#000"/>
<path d="M481.04,116.50L485.39,112.35L489.74,116.50L485.39,120.65Z" fill="#000"/>
<path d="M503.68,104.50L508.03,100.35L512.38,104.50L508.03,108.65Z" fill="#000"/>
<path d="M503.68,109.30L508.03,105.15L512.38,109.30L508.03,113.45Z" fill="#000"/>
<path d="M503.68,114.10L508.03,109.95L512.38,114.10L508.03,118.25Z" fill="#000"/>
<path d="M526.31,88.30L530.66,84.15L535.01,88.30L530.66,92.45Z" fill="#000"/>
<path d="M526.31,109.90L530.66,105.75L535.01,109.90L530.66,114.05Z" fill="#000"/>
<path d="M526.31,118.90L530.66,114.75L535.01,118.90L530.66,123.05Z" fill="#000"/>
<path d="M548.94,108.10L553.29,103.95L557.64,108.10L553.29,112.25Z" fill="#000"/>
<path d="M548.94,112.06L553.29,107.91L557.64,112.06L553.29,116.21Z" fill="#000"/>
<path d="M548.94,116.86L553.29,112.71L557.64,116.86L553.29,121.01Z" fill="#000"/>
<path d="M571.58,120.70L575.93,116.55L580.28,120.70L575.93,124.85Z" fill="#000"/>
<path d="M594.21,87.70L598.56,83.55L602.91,87.70L598.56,91.85Z" fill="#000"/>
<path d="M594.21,93.70L598.56,89.55L602.91,93.70L598.56,97.85Z" fill="#000"/>
<path d="M616.84,73.30L621.19,69.15L625.54,73.30L621.19,77.45Z" fill="#000"/>
<path d="M616.84,85.30L621.19,81.15L625.54,85.30L621.19,89.45Z" fill="#000"/>
<path d="M662.11,97.30L666.46,93.15L670.81,97.30L666.46,101.45Z" fill="#000"/>
<path d="M707.37,56.50L711.72,52.35L716.07,56.50L711.72,60.65Z" fill="#000"/>
<path d="M707.37,80.50L711.72,76.35L716.07,80.50L711.72,84.65Z" fill="#000"/>
<path d="M752.64,73.30L756.99,69.15L761.34,73.30L756.99,77.45Z" fill="#000"/>
<path d="M752.64,82.90L756.99,78.75L761.34,82.90L756.99,87.05Z" fill="#000"/>
<path d="M434.93,152.50L440.13,147.50L445.33,152.50L440.13,157.50Z" fill="#000"/>
<path d="M484.80,206.40L489.40,202.80L494.00,206.40L489.40,210.00Z" fill="#000"/>
<line x1="454" y1="250.4" x2="524.5" y2="250.4" stroke="#000" stroke-width="2"/>
<path d="M485.40,295.90L489.10,293.10L492.80,295.90L489.10,298.70Z" fill="#fff" stroke="#000" stroke-width="1.6" stroke-linejoin="round"/>
</svg>
<div class="yl" style="top:356.5px">0</div><div class="yl" style="top:296.5px">5</div><div class="yl" style="top:236.5px">10</div><div class="yl" style="top:176.5px">15</div><div class="yl" style="top:116.5px">20</div><div class="yl" style="top:56.5px">25</div><div class="yl" style="top:-3.5px">30</div><div class="xl" style="left:50.0px">0</div><div class="xl" style="left:162.3px">5</div><div class="xl" style="left:273.6px">10</div><div class="xl" style="left:386.8px">15</div><div class="xl" style="left:501.0px">20</div><div class="xl" style="left:612.8px">25</div><div class="xl" style="left:726.5px">30</div>
<div class="lg" style="top:193px">Wet Zone (WZ)</div>
<div class="lg" style="top:239px;letter-spacing:-0.12px">Fitted line (WZ)</div>
<div class="lg" style="top:284.5px;letter-spacing:0.28px">Intermediate Zone (IZ)</div>
<div class="lg" style="top:329px">Fitted line (IZ)</div>
<div id="xt">Years after planting</div>
<div id="yt">Total height (m)</div>
</div></body></html>
